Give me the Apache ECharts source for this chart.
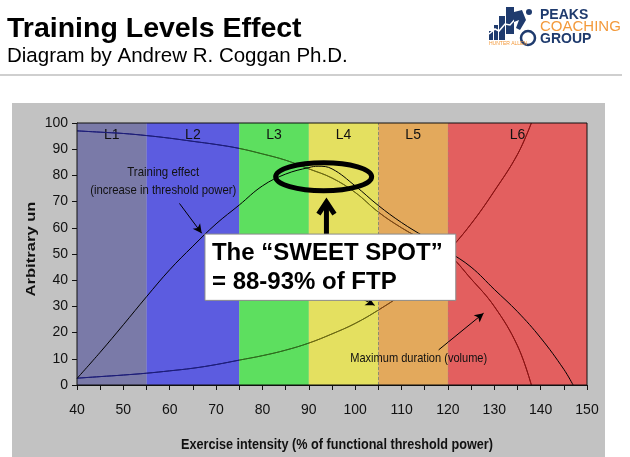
<!DOCTYPE html>
<html><head><meta charset="utf-8">
<script src="https://cdn.jsdelivr.net/npm/echarts@6/dist/echarts.min.js"></script>
<style>html,body{margin:0;padding:0;background:#fff}#c{width:630px;height:457px}</style>
</head><body><div id="c"></div>
<script>
// ---- data ----
const zoneNames = ['L1', 'L2', 'L3', 'L4', 'L5', 'L6'];
const zoneStart = [40, 55, 75, 90, 105, 120];
const zoneEnd = [55, 75, 90, 105, 120, 150];

const trainingX = [40, 45, 50, 55, 60, 65, 70, 75, 80, 85, 90, 92, 95, 100, 105, 110, 115, 120, 125, 130, 135, 140, 145, 147];
const trainingY = [2.5, 12.5, 23, 33.7, 44, 53, 61.5, 68.7, 76, 80.5, 83, 83.5, 82.5, 76, 68.5, 62, 56.5, 51, 45, 36.5, 28, 18, 6, 0];

const durationX = [40, 45, 50, 55, 60, 65, 70, 75, 80, 85, 90, 95, 100, 105, 110, 115, 120, 125, 130, 135, 138];
const durationY = [97, 96.5, 96, 95.2, 94.2, 93, 91.8, 90.3, 88.2, 85.8, 82.5, 79, 73.5, 66, 60, 55, 50, 40.5, 30, 15, 0];

const strainX = [40, 45, 50, 55, 60, 65, 70, 75, 80, 85, 90, 95, 100, 105, 110, 115, 120, 125, 130, 135, 138];
const strainY = [2.6, 3.2, 3.8, 4.5, 5.4, 6.4, 7.8, 9.5, 11.2, 13.3, 16, 19.5, 23.5, 28.6, 34.5, 42, 51, 61.5, 74, 88, 100];

const xMin = 40, xMax = 150, xStep = 10;
const yMin = 0, yMax = 100, yStep = 10;

// ---- styles ----
const zoneColors = ['#7a7aa8', '#5c5ce0', '#5ddf5f', '#e4e060', '#e3a95c', '#e35f5f'];
const lineColors = ['#1c1c78', '#1c1c78', '#2d6a1c', '#6a6812', '#7a4614', '#8a1212'];
const SANS = "'Liberation Sans',Arial,sans-serif";

const zip = (xs, ys) => xs.map((x, i) => [x, ys[i]]);
const mctx = document.createElement('canvas').getContext('2d');
const fitScale = (text, font, target) => { mctx.font = font; return target / mctx.measureText(text).width; };

const chart = echarts.init(document.getElementById('c'), null, {renderer: 'canvas'});

const option = {
  animation: false,
  backgroundColor: '#ffffff',
  grid: {left: 77, right: 43, top: 123, bottom: 72, containLabel: false},
  xAxis: {
    type: 'value', min: xMin, max: xMax, interval: xStep,
    axisLine: {lineStyle: {color: '#111', width: 1}},
    axisTick: {show: true, length: 5, lineStyle: {color: '#111'}},
    minorTick: {show: true, splitNumber: 2, length: 5, lineStyle: {color: '#111'}},
    axisLabel: {fontFamily: SANS, fontSize: 14, color: '#111', margin: 18},
    splitLine: {show: false}
  },
  yAxis: {
    type: 'value', min: yMin, max: yMax, interval: yStep,
    axisLine: {show: true, lineStyle: {color: '#111', width: 1}},
    axisTick: {show: true, length: 5, lineStyle: {color: '#111'}},
    axisLabel: {fontFamily: SANS, fontSize: 14, color: '#111', margin: 9},
    splitLine: {show: false}
  },
  visualMap: [{
    type: 'piecewise', show: false, dimension: 0, seriesIndex: [1, 2],
    pieces: zoneStart.map((s, i) => i === zoneStart.length - 1
      ? {gte: s, lte: zoneEnd[i], color: lineColors[i]}
      : {gte: s, lt: zoneEnd[i], color: lineColors[i]})
  }],
  series: [
    {
      name: 'Training effect', type: 'line', data: zip(trainingX, trainingY),
      smooth: 0.4, showSymbol: false, z: 4,
      lineStyle: {color: '#000', width: 1},
      markArea: {
        silent: true,
        label: {show: true, position: 'insideTop', distance: 5, fontFamily: SANS, fontSize: 14, color: '#111'},
        data: zoneNames.map((n, i) => [
          {name: n, xAxis: zoneStart[i], itemStyle: {color: zoneColors[i], opacity: 1}},
          {xAxis: zoneEnd[i]}
        ])
      },
      markLine: {
        silent: true, symbol: ['none', 'arrow'], symbolSize: [7, 9],
        label: {show: false},
        lineStyle: {color: '#000', width: 1, type: 'solid'},
        data: [
          [{coord: [62.1, 69.3]}, {coord: [66.9, 57.9]}],
          [{coord: [118, 13.4]}, {coord: [127.7, 27.4]}],
          [{coord: [100.5, 33.8]}, {coord: [104.2, 30.4]}]
        ]
      }
    },
    {
      name: 'Maximum duration', type: 'line', data: zip(durationX, durationY),
      smooth: 0.4, showSymbol: false, z: 3, lineStyle: {width: 1},
      markLine: {
        silent: true, symbol: 'none', label: {show: false},
        data: [
          {xAxis: 105, lineStyle: {color: '#8a8a70', type: [3, 2], width: 1}},
          {xAxis: 120, lineStyle: {color: '#b07a6a', type: [3, 2], width: 1, opacity: 0.6}}
        ]
      }
    },
    {
      name: 'Strain', type: 'line', data: zip(strainX, strainY),
      smooth: 0.4, showSymbol: false, z: 3, lineStyle: {width: 1}
    }
  ]
};
chart.setOption(option);

const px = (x, y) => chart.convertToPixel({gridIndex: 0}, [x, y]);
const tl = px(xMin, yMax), br = px(xMax, yMin);
const boxA = px(67.6, 57.6), boxB = px(121.7, 32.3);
const ell = px(93.2, 79.5);
const arrTip = px(93.8, 70.6);
const txt1 = px(58.6, 81.0), txt2 = px(58.6, 74.2), txt3 = px(113.7, 10.2);

const navy = '#1f3b6e', orange = '#f39a3c';

const T1 = 'Training effect', T2 = '(increase in threshold power)', T3 = 'Maximum duration (volume)';
const XN = 'Exercise intensity (% of functional threshold power)', YN = 'Arbitrary un';
const fNote = '13px ' + SANS, fName = 'bold 15px ' + SANS, fYName = 'bold 16px ' + SANS;

const noteText = (t, p, target) => ({
  type: 'text', z: 20, x: p[0], y: p[1], scaleX: fitScale(t, fNote, target),
  style: {text: t, font: fNote, fill: '#111', align: 'center', verticalAlign: 'middle'}
});

const graphics = [
  // grey panel
  {type: 'rect', z: -10, shape: {x: 12, y: 103, width: 593, height: 354}, style: {fill: '#c2c2c2'}},
  // header separator
  {type: 'rect', z: -10, shape: {x: 0, y: 74, width: 622, height: 2}, style: {fill: '#cfcfcf'}},
  // title
  {type: 'text', x: 7, y: 29, style: {text: 'Training Levels Effect', font: 'bold 28.5px ' + SANS, fill: '#000', verticalAlign: 'middle'}},
  {type: 'text', x: 7, y: 56, style: {text: 'Diagram by Andrew R. Coggan Ph.D.', font: '20.5px ' + SANS, fill: '#000', verticalAlign: 'middle'}},
  // logo
  {type: 'rect', shape: {x: 489, y: 31, width: 4, height: 9}, style: {fill: navy}},
  {type: 'rect', shape: {x: 494, y: 25, width: 4, height: 15}, style: {fill: navy}},
  {type: 'rect', shape: {x: 499, y: 16, width: 6, height: 24}, style: {fill: navy}},
  {type: 'rect', shape: {x: 506, y: 7, width: 8, height: 27}, style: {fill: navy}},
  {type: 'polyline', shape: {points: [[489, 34], [495, 29], [499, 31], [505, 24], [510, 25], [518, 16]]}, style: {stroke: '#fff', lineWidth: 1.5, fill: null}},
  {type: 'polygon', shape: {points: [[514, 12], [522, 10], [526, 20], [520, 30], [516, 28], [519, 20], [514, 22]]}, style: {fill: navy}},
  {type: 'circle', shape: {cx: 529, cy: 12, r: 3}, style: {fill: navy}},
  {type: 'circle', shape: {cx: 528, cy: 38, r: 7}, style: {stroke: navy, lineWidth: 2.5, fill: null}},
  {type: 'text', x: 489, y: 44, style: {text: 'HUNTER ALLEN', font: '5px ' + SANS, fill: orange, verticalAlign: 'middle'}},
  {type: 'text', x: 540, y: 15, style: {text: 'PEAKS', font: 'bold 14px ' + SANS, fill: navy, verticalAlign: 'middle'}},
  {type: 'text', x: 540, y: 27, style: {text: 'COACHING', font: '15px ' + SANS, fill: orange, verticalAlign: 'middle'}},
  {type: 'text', x: 540, y: 39, style: {text: 'GROUP', font: 'bold 14px ' + SANS, fill: navy, verticalAlign: 'middle'}},
  // plot frame
  {type: 'rect', z: 20, shape: {x: tl[0], y: tl[1], width: br[0] - tl[0], height: br[1] - tl[1]}, style: {fill: null, stroke: '#111', lineWidth: 1}},
  // axis names
  {type: 'text', z: 20, x: 337, y: 445, scaleX: fitScale(XN, fName, 312),
    style: {text: XN, font: fName, fill: '#111', align: 'center', verticalAlign: 'middle'}},
  {type: 'text', z: 20, x: 31.5, y: 249, rotation: Math.PI / 2, scaleX: fitScale(YN, fYName, 95), scaleY: 0.85,
    style: {text: YN, font: fYName, fill: '#111', align: 'center', verticalAlign: 'middle'}},
  // annotations
  noteText(T1, txt1, 72),
  noteText(T2, txt2, 146),
  noteText(T3, txt3, 137),
  // ellipse
  {type: 'ellipse', z: 25, shape: {cx: ell[0], cy: ell[1], rx: 48, ry: 14}, style: {fill: null, stroke: '#000', lineWidth: 5}},
  // arrow
  {type: 'line', z: 25, shape: {x1: arrTip[0], y1: arrTip[1] + 2, x2: arrTip[0], y2: boxA[1]}, style: {stroke: '#000', lineWidth: 5}},
  {type: 'polyline', z: 25, shape: {points: [[arrTip[0] - 8, arrTip[1] + 14], [arrTip[0], arrTip[1] + 2], [arrTip[0] + 8, arrTip[1] + 14]]}, style: {stroke: '#000', lineWidth: 5, fill: null, lineJoin: 'miter'}},
  // sweet spot box
  {type: 'rect', z: 30, shape: {x: boxA[0], y: boxA[1], width: boxB[0] - boxA[0], height: boxB[1] - boxA[1]}, style: {fill: '#fff', stroke: '#8a8a8a', lineWidth: 1}},
  {type: 'text', z: 31, x: boxA[0] + 7, y: boxA[1] + 19, style: {text: 'The \u201cSWEET SPOT\u201d', font: 'bold 24px ' + SANS, fill: '#000', verticalAlign: 'middle'}},
  {type: 'text', z: 31, x: boxA[0] + 7, y: boxA[1] + 48, style: {text: '= 88-93% of FTP', font: 'bold 24px ' + SANS, fill: '#000', verticalAlign: 'middle'}}
];
chart.setOption({graphic: graphics});
</script>
</body></html>
